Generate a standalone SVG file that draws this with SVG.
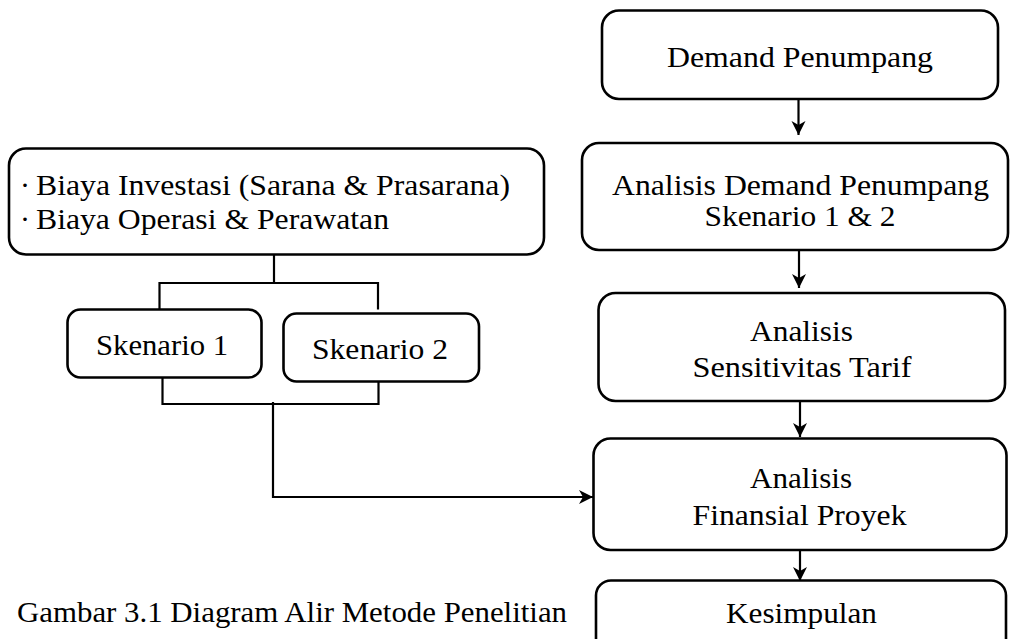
<svg xmlns="http://www.w3.org/2000/svg" width="1011" height="639" viewBox="0 0 1011 639">
<style>
.box{fill:#fff;stroke:#000;stroke-width:2.6}
.t{font-family:'Liberation Serif','Times New Roman',Times,serif;font-size:30px;fill:#000}
.c{fill:none;stroke:#000;stroke-width:2.2}
</style>
<defs>
<marker id="ah" viewBox="0 0 16 16" markerUnits="userSpaceOnUse" markerWidth="16" markerHeight="16" refX="15" refY="8" orient="auto">
<path d="M1,1 L15,8 L1,15 L5,8 z" fill="#000"/>
</marker>
</defs>
<rect width="1011" height="639" fill="#fff"/>
<g id="connectors">
<line class="c" x1="798.5" y1="99" x2="798.5" y2="135" marker-end="url(#ah)"/>
<line class="c" x1="799" y1="250" x2="799" y2="288" marker-end="url(#ah)"/>
<line class="c" x1="800" y1="401" x2="800" y2="437" marker-end="url(#ah)"/>
<line class="c" x1="800" y1="550" x2="800" y2="581" marker-end="url(#ah)"/>
<polyline class="c" points="274,254 274,283"/>
<polyline class="c" points="159.5,309 159.5,283 378,283 378,309.5"/>
<polyline class="c" points="162.5,377 162.5,404 378.5,404 378.5,381"/>
<polyline class="c" points="273,402 273,497 593,497" marker-end="url(#ah)"/>
</g>
<g id="biaya">
<rect class="box" x="9" y="148.5" width="535" height="106" rx="17"/>
<text class="t" x="20" y="194.5">·</text>
<text class="t" x="36" y="194.5" textLength="474" lengthAdjust="spacingAndGlyphs">Biaya Investasi (Sarana &amp; Prasarana)</text>
<text class="t" x="20" y="229">·</text>
<text class="t" x="36" y="229" textLength="353" lengthAdjust="spacingAndGlyphs">Biaya Operasi &amp; Perawatan</text>
</g>
<g id="skenario1">
<rect class="box" x="67.5" y="309.5" width="194" height="68" rx="13"/>
<text class="t" x="96" y="355" textLength="132" lengthAdjust="spacingAndGlyphs">Skenario 1</text>
</g>
<g id="skenario2">
<rect class="box" x="283.5" y="313.5" width="195.5" height="68" rx="13"/>
<text class="t" x="312" y="359" textLength="136" lengthAdjust="spacingAndGlyphs">Skenario 2</text>
</g>
<g id="demand">
<rect class="box" x="602" y="10.5" width="396" height="88.5" rx="17"/>
<text class="t" x="667" y="67" textLength="266" lengthAdjust="spacingAndGlyphs">Demand Penumpang</text>
</g>
<g id="analisis-demand">
<rect class="box" x="582" y="143" width="426" height="107" rx="17"/>
<text class="t" x="612" y="194.5" textLength="377" lengthAdjust="spacingAndGlyphs">Analisis Demand Penumpang</text>
<text class="t" x="704.5" y="225.5" textLength="191" lengthAdjust="spacingAndGlyphs">Skenario 1 &amp; 2</text>
</g>
<g id="sensitivitas">
<rect class="box" x="598.5" y="293" width="406.5" height="108" rx="17"/>
<text class="t" x="750" y="341" textLength="103" lengthAdjust="spacingAndGlyphs">Analisis</text>
<text class="t" x="692.5" y="376.5" textLength="219" lengthAdjust="spacingAndGlyphs">Sensitivitas Tarif</text>
</g>
<g id="finansial">
<rect class="box" x="593.5" y="438.5" width="413" height="111.5" rx="17"/>
<text class="t" x="750" y="487.5" textLength="102" lengthAdjust="spacingAndGlyphs">Analisis</text>
<text class="t" x="692.5" y="525" textLength="214" lengthAdjust="spacingAndGlyphs">Finansial Proyek</text>
</g>
<g id="kesimpulan">
<rect class="box" x="596" y="580.5" width="410" height="80" rx="15"/>
<text class="t" x="726" y="623" textLength="151" lengthAdjust="spacingAndGlyphs">Kesimpulan</text>
</g>
<text id="caption" class="t" x="17" y="622" textLength="550" lengthAdjust="spacingAndGlyphs">Gambar 3.1 Diagram Alir Metode Penelitian</text>
</svg>
